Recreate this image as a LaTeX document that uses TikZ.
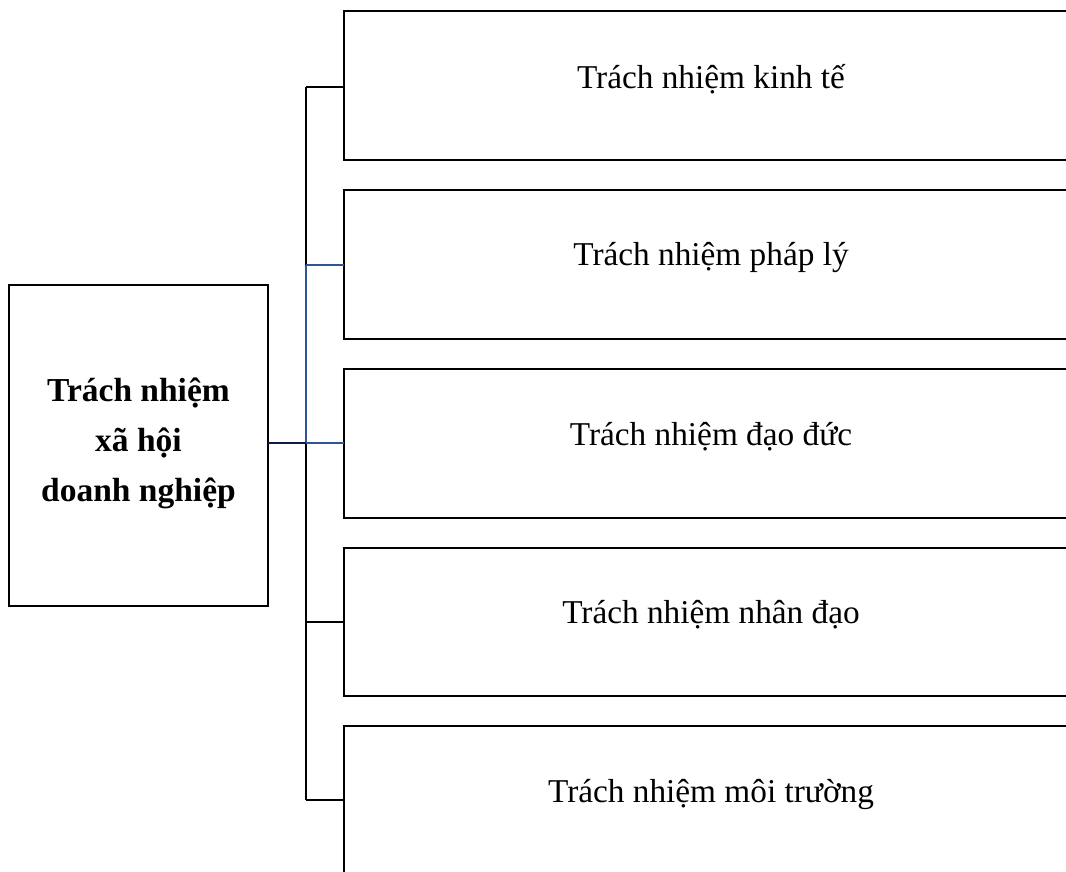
\documentclass[tikz,border=0pt]{standalone}
\usepackage{fontspec}
\setmainfont{Liberation Serif}
\definecolor{linkblue}{RGB}{47,85,151}
\definecolor{navy}{RGB}{12,28,70}
\begin{document}
\begin{tikzpicture}[x=1pt,y=-1pt,
  box/.style={draw=black,line width=2.6pt},
  conn/.style={draw=black,line width=1.2pt},
  bconn/.style={draw=linkblue,line width=1.6pt},
  lbl/.style={font=\fontsize{33.3}{40}\selectfont,anchor=center,inner sep=0pt},
  blbl/.style={font=\bfseries\fontsize{33.5}{50}\selectfont,align=center,anchor=center,inner sep=0pt}]
\useasboundingbox (0,0) rectangle (1066,871);
\clip (0,0) rectangle (1066,871);
% left box
\draw[box] (9,285) rectangle (268,606);
\node[blbl] (main) at (138.5,443) {Trách nhiệm\\xã hội\\doanh nghiệp};
\coordinate (mr) at (268,443);
% right boxes
\draw[box] (344,11) rectangle (1090,160);
\draw[box] (344,190) rectangle (1090,339);
\draw[box] (344,369) rectangle (1090,518);
\draw[box] (344,548) rectangle (1090,696);
\draw[box] (344,726) rectangle (1090,900);
\node[lbl] (t1) at (711,79) {Trách nhiệm kinh tế};
\node[lbl] (t2) at (711,258) {Trách nhiệm pháp lý};
\node[lbl] (t3) at (711,437) {Trách nhiệm đạo đức};
\node[lbl] (t4) at (711,615) {Trách nhiệm nhân đạo};
\node[lbl] (t5) at (711,794) {Trách nhiệm môi trường};
% junction coordinates
\coordinate (j1) at (306,87);
\coordinate (j2) at (306,265);
\coordinate (j3) at (306,443);
\coordinate (j4) at (306,622);
\coordinate (j5) at (306,800);
\coordinate (e1) at (344,87);
\coordinate (e2) at (344,265);
\coordinate (e3) at (344,443);
\coordinate (e4) at (344,622);
\coordinate (e5) at (344,800);
% connectors
\draw[conn] (j1) -- (j2);
\draw[conn] (j3) -- (j5);
\draw[conn] (j1) -- (e1);
\draw[conn] (j4) -- (e4);
\draw[conn] (j5) -- (e5);
\draw[bconn] (j2) -- (j3);
\draw[bconn] (j2) -- (e2);
\draw[bconn] (j3) -- (e3);
\draw[draw=navy,line width=1.8pt] (mr) -- (j3);
\end{tikzpicture}
\end{document}
